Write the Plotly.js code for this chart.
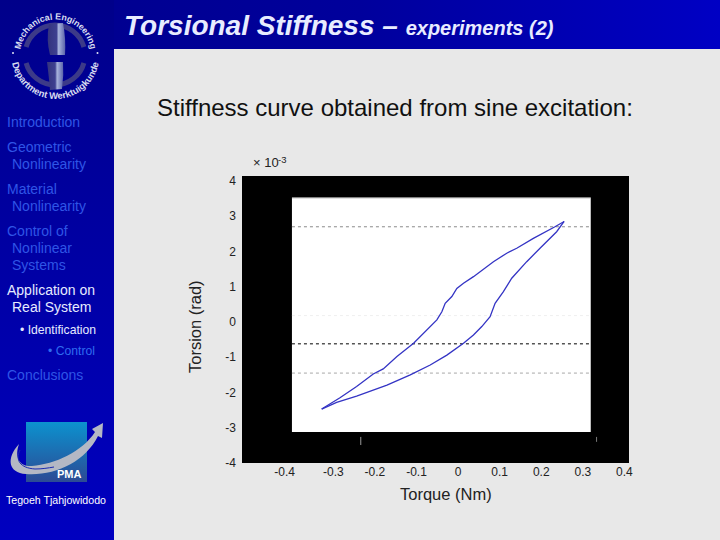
<!DOCTYPE html>
<html><head><meta charset="utf-8">
<script src="https://cdn.plot.ly/plotly-3.0.1.min.js"></script>
<style>
html,body{margin:0;padding:0;background:#e8e8e8;overflow:hidden}
#wrap{position:relative;width:720px;height:540px;overflow:hidden}
#bg,#chart{position:absolute;left:0;top:0;width:720px;height:540px}
</style></head><body>
<div id="wrap">
<svg id="bg" viewBox="0 0 720 540" xmlns="http://www.w3.org/2000/svg">
<defs>
<linearGradient id="head" x1="0" x2="1" y1="0" y2="0"><stop offset="0" stop-color="#00008c"/><stop offset="0.5" stop-color="#00009c"/><stop offset="1" stop-color="#0000c4"/></linearGradient>
<linearGradient id="side" x1="0" x2="0" y1="0" y2="1"><stop offset="0" stop-color="#00008a"/><stop offset="1" stop-color="#0000c0"/></linearGradient>
<linearGradient id="pma" x1="0" x2="0" y1="0" y2="1"><stop offset="0" stop-color="#0c92cf"/><stop offset="1" stop-color="#2c4a94"/></linearGradient>
<linearGradient id="lens" x1="0" x2="1" y1="0" y2="0"><stop offset="0" stop-color="#34347e"/><stop offset="0.5" stop-color="#3e4090"/><stop offset="0.62" stop-color="#a8b4dc"/><stop offset="1" stop-color="#5a62aa"/></linearGradient>
</defs>
<rect width="720" height="540" fill="#e8e8e8"/>
<rect width="720" height="49" fill="url(#head)"/>
<rect width="114" height="540" fill="url(#side)"/>
<path d="M 26.1 47 A 30 30 0 0 1 83.9 47" fill="none" stroke="#3c3a88" stroke-width="5"/>
<path d="M 26.1 63 A 30 30 0 0 0 83.9 63" fill="none" stroke="#3c3a88" stroke-width="5"/>
<path d="M 49 24 Q 46 40 50 55 L 65 55 Q 66 38 63 23 Z" fill="url(#lens)"/>
<path d="M 47 62 Q 49 78 50 90 L 62 89 Q 64 75 63 62 Z" fill="url(#lens)"/>
<circle cx="13" cy="53" r="1" fill="#e0e4f4"/><circle cx="97.5" cy="53" r="1" fill="#e0e4f4"/>
<text id="logoTop" font-family="Liberation Sans" font-size="8.8" font-weight="bold" fill="#d8dcf0" style="white-space:pre">Mechanical Engineering</text>
<text id="logoBot" font-family="Liberation Sans" font-size="9.4" font-weight="bold" fill="#d8dcf0" style="white-space:pre">Department Werktuigkunde</text>
<rect x="26" y="422" width="61" height="60" fill="url(#pma)"/>
<path d="M 19 444 C 6 458 8 473 26 474 C 55 476 85 462 98 436 L 102 438 L 103 423 L 92 429 L 95 432 C 82 452 55 464 32 466 C 20 467 14 458 19 444 Z" fill="#b4b8c4"/>
<path d="M 20 450 C 15 460 20 468 35 469 C 42 469 48 468 54 467" fill="none" stroke="#1a2ab0" stroke-width="1"/>
<text x="57" y="478" font-family="Liberation Sans" font-size="11" font-weight="bold" fill="#fff">PMA</text>
</svg>
<div id="chart"></div>
</div>
<script>
// Values
const torqueUpper = [-0.328,-0.284,-0.244,-0.204,-0.180,-0.147,-0.107,-0.083,-0.067,-0.051,-0.039,-0.031,-0.015,-0.003,0.013,0.037,0.085,0.117,0.141,0.181,0.233,0.255];
const torsionUpper = [-2.47,-2.15,-1.83,-1.475,-1.33,-0.98,-0.605,-0.32,-0.13,0.06,0.29,0.53,0.72,0.95,1.10,1.285,1.71,1.95,2.09,2.37,2.70,2.85];
const torqueLower = [0.255,0.237,0.197,0.165,0.129,0.109,0.089,0.077,0.057,0.037,0.013,-0.027,-0.067,-0.115,-0.171,-0.244,-0.292,-0.328];
const torsionLower = [2.85,2.56,2.09,1.71,1.24,0.86,0.53,0.15,-0.13,-0.37,-0.605,-0.94,-1.22,-1.50,-1.79,-2.10,-2.28,-2.47];
const refLevels = [2.7,0.18,-0.62,-1.45];
const refColors = ['#8a8a8a','#efefef','#000000','#a8a8a8'];
const xTickVals = [-0.417,-0.3,-0.2,-0.1,0,0.1,0.2,0.3,0.4];
const xTickText = ['-0.4','-0.3','-0.2','-0.1','0','0.1','0.2','0.3','0.4'];
const yTickVals = [4,3,2,1,0,-1,-2,-3,-4];
const yTickText = ['4','3','2','1','0','-1','-2','-3','-4'];
const xRange = [-0.5196,0.411], yRange = [-4,4.14];
const whiteX = [-0.3995,0.319], whiteY = [-3.12,3.52];
const F = 'Liberation Sans, Arial, sans-serif';
const blue = '#2f55e6', pale = '#e6ebff';
const px = x => x/720, py = y => 1-y/540;

// Bend the logo captions round the ring, glyph by glyph, keeping one text string each
function bendText(id, r, cx, cy, onTop){
  const el = document.getElementById(id), s = el.textContent;
  const ctx = document.createElement('canvas').getContext('2d');
  ctx.font = 'bold ' + el.getAttribute('font-size') + 'px "Liberation Sans"';
  const adv = [...s].map(c => ctx.measureText(c).width);
  const total = adv.reduce((a,b)=>a+b,0);
  let run = 0; const xs=[], ys=[], rs=[];
  adv.forEach(a => {
    const t = (run + a/2 - total/2)/r;
    const rot = onTop ? t : -t;
    const mx = cx + r*Math.sin(t), my = onTop ? cy - r*Math.cos(t) : cy + r*Math.cos(t);
    xs.push((mx - a/2*Math.cos(rot)).toFixed(2));
    ys.push((my - a/2*Math.sin(rot)).toFixed(2));
    rs.push((rot*180/Math.PI).toFixed(1));
    run += a;
  });
  el.setAttribute('x', xs.join(' ')); el.setAttribute('y', ys.join(' ')); el.setAttribute('rotate', rs.join(' '));
}
bendText('logoTop', 35.5, 55.5, 55, true);
bendText('logoBot', 44, 55.5, 55, false);

const sideItems = [
 ['Introduction',7,122,blue,14],['Geometric',7,147,blue,14],['Nonlinearity',12,164,blue,14],
 ['Material',7,189,blue,14],['Nonlinearity',12,206,blue,14],['Control of',7,231,blue,14],
 ['Nonlinear',12,248,blue,14],['Systems',12,265,blue,14],['Application on',7,290,pale,14],
 ['Real System',12,307,pale,14],['• Identification',20,330,pale,12.2],['• Control',48,351,'#2f6cf0',12.2],
 ['Conclusions',7,375,blue,14],['Tegoeh Tjahjowidodo',6,500,'#ffffff',10.6]];
const annots = sideItems.map(s=>({text:s[0],x:px(s[1]),y:py(s[2]),xref:'paper',yref:'paper',xanchor:'left',yanchor:'middle',showarrow:false,xshift:-2,font:{family:F,size:s[4],color:s[3]}}));
annots.push(
 {text:'Stiffness curve obtained from sine excitation:',x:px(157),y:py(107),xref:'paper',yref:'paper',xanchor:'left',yanchor:'middle',showarrow:false,xshift:-2,font:{family:F,size:24,color:'#111'}},
 {text:'× 10',x:px(253),y:py(163),xref:'paper',yref:'paper',xanchor:'left',yanchor:'middle',showarrow:false,xshift:-2,font:{family:F,size:13,color:'#222'}},
 {text:'-3',x:px(278),y:py(159),xref:'paper',yref:'paper',xanchor:'left',yanchor:'middle',showarrow:false,xshift:-2,font:{family:F,size:9.5,color:'#222'}},
 {text:'Torsion (rad)',x:px(195),y:py(327),xref:'paper',yref:'paper',xanchor:'center',yanchor:'middle',textangle:-90,showarrow:false,font:{family:F,size:16.5,color:'#222'}},
 {text:'Torque (Nm)',x:px(446),y:py(494),xref:'paper',yref:'paper',xanchor:'center',yanchor:'middle',showarrow:false,font:{family:F,size:16.5,color:'#222'}}
);
const traces = refLevels.map((v,i)=>({x:whiteX,y:[v,v],mode:'lines',line:{color:refColors[i],width:1,dash:'dot'},hoverinfo:'skip',showlegend:false}));
traces.push({x:torqueUpper,y:torsionUpper,mode:'lines',line:{color:'#3434c4',width:1.3},showlegend:false});
traces.push({x:torqueLower,y:torsionLower,mode:'lines',line:{color:'#3434c4',width:1.3},showlegend:false});
const layout = {
 width:720,height:540,margin:{l:0,r:0,t:0,b:0},paper_bgcolor:'rgba(0,0,0,0)',plot_bgcolor:'#000',showlegend:false,
 title:{text:'<b><i>Torsional Stiffness –</i></b> <b><i><span style="font-size:20px">experiments (2)</span></i></b>',x:px(124),xanchor:'left',xref:'paper',y:py(25),yref:'paper',yanchor:'middle',font:{family:F,size:28,color:'#e8ecff'}},
 xaxis:{domain:[px(242),px(629)],range:xRange,tickmode:'array',tickvals:xTickVals,ticktext:xTickText,showgrid:false,zeroline:false,showline:false,ticks:'',ticklen:0,tickangle:0,tickfont:{family:F,size:12,color:'#222'},automargin:false},
 yaxis:{domain:[py(463),py(176)],range:yRange,tickmode:'array',tickvals:yTickVals,ticktext:yTickText,showgrid:false,zeroline:false,showline:false,ticks:'',ticklabelstandoff:5,tickfont:{family:F,size:12,color:'#222'},automargin:false},
 shapes:[{type:'rect',xref:'x',yref:'y',x0:whiteX[0],x1:whiteX[1],y0:whiteY[0],y1:whiteY[1],fillcolor:'#fff',line:{width:0},layer:'below'},
  {type:'line',xref:'x',yref:'y',x0:whiteX[0],x1:whiteX[1],y0:whiteY[1],y1:whiteY[1],line:{color:'#aaaaaa',width:1},layer:'below'},
  {type:'line',xref:'x',yref:'y',x0:-0.234,x1:-0.234,y0:-3.26,y1:-3.49,line:{color:'#999999',width:1},layer:'below'},
  {type:'line',xref:'x',yref:'y',x0:0.333,x1:0.333,y0:-3.26,y1:-3.4,line:{color:'#777777',width:1},layer:'below'}],
 annotations:annots
};
Plotly.newPlot('chart',traces,layout,{staticPlot:true,displayModeBar:false});
</script>
</body></html>
